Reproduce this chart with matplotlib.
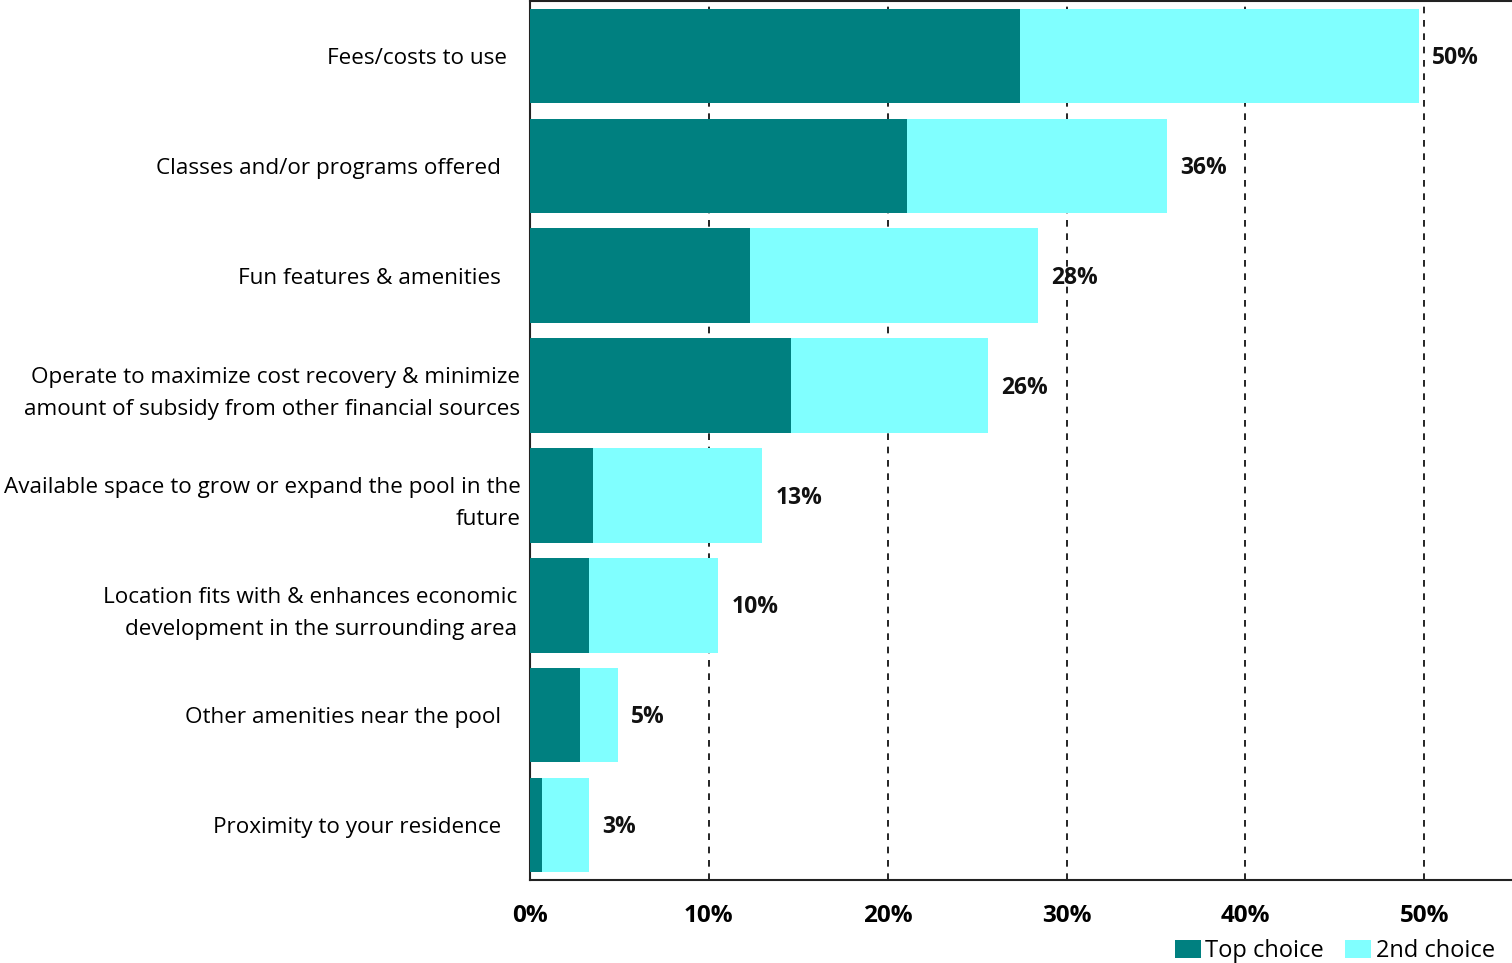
import matplotlib
matplotlib.use("Agg")
import matplotlib.pyplot as plt
from matplotlib.patches import Patch

plt.rcParams['font.family'] = ['Open Sans', 'DejaVu Sans']

categories = [
    "Fees/costs to use",
    "Classes and/or programs offered",
    "Fun features & amenities",
    "Operate to maximize cost recovery & minimize\namount of subsidy from other financial sources",
    "Available space to grow or expand the pool in the\nfuture",
    "Location fits with & enhances economic\ndevelopment in the surrounding area",
    "Other amenities near the pool",
    "Proximity to your residence",
]
top_choice = [27.4, 21.1, 12.3, 14.6, 3.5, 3.3, 2.8, 0.7]
second_choice = [22.3, 14.5, 16.1, 11.0, 9.5, 7.2, 2.1, 2.6]
x_ticks = [0, 10, 20, 30, 40, 50]
x_tick_labels = ["0%", "10%", "20%", "30%", "40%", "50%"]

TEAL = "#008080"
CYAN = "#80FFFF"

fig = plt.figure(figsize=(15.12, 9.63), dpi=100)
ax = fig.add_axes([0.3505, 0.0862, 0.6495, 0.9128])

y = list(range(len(categories)))
ax.barh(y, top_choice, height=0.86, color=TEAL, zorder=3)
ax.barh(y, second_choice, left=top_choice, height=0.86, color=CYAN, zorder=3)

for yi, a, b in zip(y, top_choice, second_choice):
    total = a + b
    ax.text(total + 0.75, yi + 0.02, f"{total:.0f}%", va="center", ha="left",
            fontsize=16.5, fontweight="bold", color="#111111", zorder=4)

ax.set_xlim(0, 54.9)
ax.set_ylim(len(categories) - 0.5, -0.5)
ax.set_xticks(x_ticks)
ax.set_xticklabels(x_tick_labels, fontsize=17.5, fontweight="bold")
ax.set_yticks(y)
ax.set_yticklabels(categories, fontsize=16.2, linespacing=1.68)
ax.tick_params(axis="both", length=0)
ax.tick_params(axis="x", pad=17)

pads = [16.5, 21, 21, 7, 6.5, 9.4, 21, 21]
for t, p in zip(ax.yaxis.get_major_ticks(), pads):
    t.set_pad(p)

for gx in x_ticks[1:]:
    ax.axvline(gx, color="black", linestyle=(0, (4, 4)), linewidth=1.2, zorder=1)

ax.spines["right"].set_visible(False)
for side in ["left", "bottom", "top"]:
    ax.spines[side].set_linewidth(1.5)
    ax.spines[side].set_color("#222222")

handles = [Patch(facecolor=TEAL, label="Top choice"),
           Patch(facecolor=CYAN, label="2nd choice")]
fig.legend(handles=handles, loc="lower right", bbox_to_anchor=(1.003, -0.022),
           ncol=2, frameon=False, fontsize=17, handlelength=1.1,
           handleheight=0.8, handletextpad=0.2, columnspacing=0.9)

fig.savefig("out.png", dpi=100)
